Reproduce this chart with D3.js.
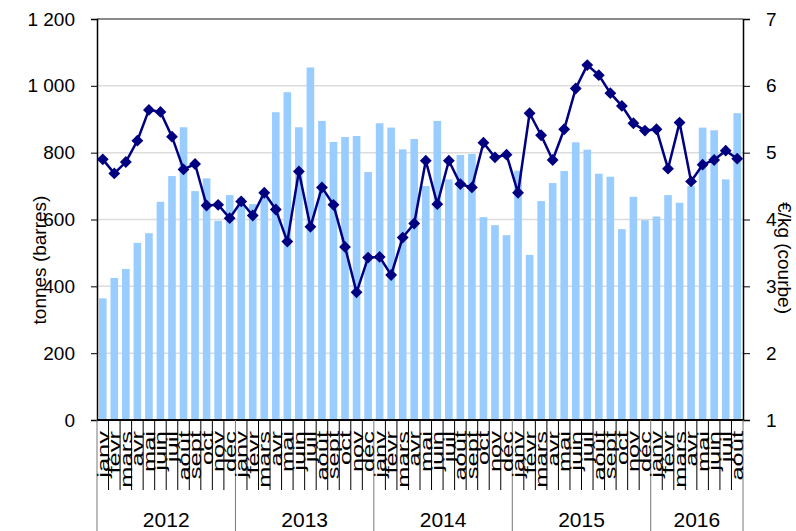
<!DOCTYPE html>
<html>
<head>
<meta charset="utf-8">
<script src="https://cdn.jsdelivr.net/npm/d3@7"></script>
<style>
body { margin: 0; background: #fff; }
text { font-family: Arial, "Liberation Sans", sans-serif; fill: #000; }
</style>
</head>
<body>
<svg id="chart" width="796" height="531"></svg>
<script>
// monthly data, janv 2012 -> août 2016
var years = ["2012", "2013", "2014", "2015", "2016"];
var monthNames = ["janv", "févr", "mars", "avr", "mai", "juin", "juil", "août", "sept", "oct", "nov", "déc"];

var tonnes = [364, 425, 452, 530, 559, 653, 730, 876, 685, 723, 596, 673,
              665, 646, 675, 921, 981, 876, 1055, 895, 832, 847, 850, 742,
              888, 875, 810, 841, 700, 895, 720, 793, 796, 607, 583, 553,
              746, 494, 655, 709, 745, 831, 809, 737, 728, 571, 668, 598,
              609, 673, 650, 700, 875, 867, 720, 918];

var euros = [4.90, 4.69, 4.86, 5.18, 5.64, 5.61, 5.24, 4.75, 4.83, 4.21, 4.22, 4.02,
             4.27, 4.06, 4.40, 4.15, 3.67, 4.72, 3.89, 4.48, 4.22, 3.59, 2.91, 3.43,
             3.44, 3.17, 3.73, 3.94, 4.88, 4.23, 4.88, 4.53, 4.48, 5.15, 4.93, 4.97,
             4.40, 5.59, 5.26, 4.89, 5.35, 5.96, 6.31, 6.16, 5.89, 5.70, 5.44, 5.33,
             5.35, 4.76, 5.45, 4.57, 4.82, 4.89, 5.03, 4.91];

var leftTicks = [0, 200, 400, 600, 800, 1000, 1200];
var rightTicks = [1, 2, 3, 4, 5, 6, 7];

var months = tonnes.map(function(d, i) {
    return {i: i, month: monthNames[i % 12], year: years[Math.floor(i / 12)], t: d, e: euros[i]};
});

var svg = d3.select("#chart");
var plotLeft = 97, plotRight = 743, plotTop = 19, plotBottom = 420;

var x = d3.scaleBand()
    .domain(months.map(function(d) { return d.i; }))
    .range([plotLeft, plotRight])
    .paddingInner(0.34)
    .paddingOuter(0.17);
var step = x.step();

var y = d3.scaleLinear().domain([0, 1200]).range([plotBottom, plotTop]);
var y2 = d3.scaleLinear().domain([1, 7]).range([plotBottom, plotTop]);

var fmt = function(v) { return d3.format(",")(v).replace(",", " "); };

// gridlines
svg.append("g")
    .selectAll("line")
    .data(leftTicks.slice(1))
    .enter().append("line")
    .attr("x1", plotLeft).attr("x2", plotRight)
    .attr("y1", function(d) { return y(d); })
    .attr("y2", function(d) { return y(d); })
    .attr("stroke", function(d) { return d == 1200 ? "#8a8a8a" : "#dcdcdc"; })
    .attr("stroke-width", function(d) { return d == 1200 ? 2 : 1.5; });

// bars
svg.append("g")
    .selectAll("rect")
    .data(months)
    .enter().append("rect")
    .attr("x", function(d) { return x(d.i); })
    .attr("width", x.bandwidth())
    .attr("y", function(d) { return y(d.t); })
    .attr("height", function(d) { return plotBottom - y(d.t); })
    .attr("fill", "#99ccff");

// left axis
var yAxis = d3.axisLeft(y).tickValues(leftTicks).tickSize(6).tickPadding(16).tickFormat(fmt);
var gy = svg.append("g").attr("transform", "translate(" + plotLeft + ",0)").call(yAxis);
gy.select(".domain").attr("stroke", "#000").attr("stroke-width", 1.5);
gy.selectAll("line").attr("stroke", "#000");
gy.selectAll("text").style("font-size", "19px").attr("font-family", null);

// right axis
var y2Axis = d3.axisRight(y2).tickValues(rightTicks).tickSize(7).tickPadding(16).tickFormat(d3.format("d"));
var gy2 = svg.append("g").attr("transform", "translate(" + plotRight + ",0)").call(y2Axis);
gy2.select(".domain").attr("stroke", "#000").attr("stroke-width", 1.5);
gy2.selectAll("line").attr("stroke", "#000");
gy2.selectAll("text").style("font-size", "19px").attr("font-family", null);

// x axis base line
svg.append("line")
    .attr("x1", plotLeft).attr("x2", plotRight)
    .attr("y1", plotBottom).attr("y2", plotBottom)
    .attr("stroke", "#000").attr("stroke-width", 2);

// month ticks
svg.append("g")
    .selectAll("line")
    .data(d3.range(months.length + 1))
    .enter().append("line")
    .attr("x1", function(d) { return plotLeft + d * step; })
    .attr("x2", function(d) { return plotLeft + d * step; })
    .attr("y1", plotBottom)
    .attr("y2", function(d) { return d % 12 == 0 || d == months.length ? 531 : 490; })
    .attr("stroke", function(d) { return d % 12 == 0 || d == months.length ? "#777" : "#000"; })
    .attr("stroke-width", 1);

// month labels
svg.append("g")
    .selectAll("text")
    .data(months)
    .enter().append("text")
    .attr("transform", function(d) {
        return "translate(" + (x(d.i) + x.bandwidth() / 2 + 6) + "," + 431 + ") rotate(-90) scale(1.5,1)";
    })
    .attr("text-anchor", "end")
    .style("font-size", "17px")
    .text(function(d) { return d.month; });

// year labels
svg.append("g")
    .selectAll("text")
    .data(years)
    .enter().append("text")
    .attr("x", function(d, k) {
        var n = months.filter(function(m) { return m.year == d; }).length;
        return plotLeft + (k * 12 + n / 2) * step;
    })
    .attr("y", 527)
    .attr("text-anchor", "middle")
    .style("font-size", "21px")
    .text(function(d) { return d; });

// price line
var line = d3.line()
    .x(function(d) { return x(d.i) + x.bandwidth() / 2; })
    .y(function(d) { return y2(d.e); });

svg.append("path")
    .datum(months)
    .attr("d", line)
    .attr("fill", "none")
    .attr("stroke", "#000080")
    .attr("stroke-width", 2.5);

var diamond = d3.symbol().type(d3.symbolSquare).size(70);
svg.append("g")
    .selectAll("path")
    .data(months)
    .enter().append("path")
    .attr("d", diamond)
    .attr("transform", function(d) {
        return "translate(" + (x(d.i) + x.bandwidth() / 2) + "," + y2(d.e) + ") rotate(45)";
    })
    .attr("fill", "#000080");

// axis titles
svg.append("text")
    .attr("transform", "translate(46,260) rotate(-90)")
    .attr("text-anchor", "middle")
    .style("font-size", "19px")
    .text("tonnes (barres)");

svg.append("text")
    .attr("transform", "translate(778,258) rotate(90)")
    .attr("text-anchor", "middle")
    .style("font-size", "19px")
    .text("€/kg (courbe)");
</script>
</body>
</html>
